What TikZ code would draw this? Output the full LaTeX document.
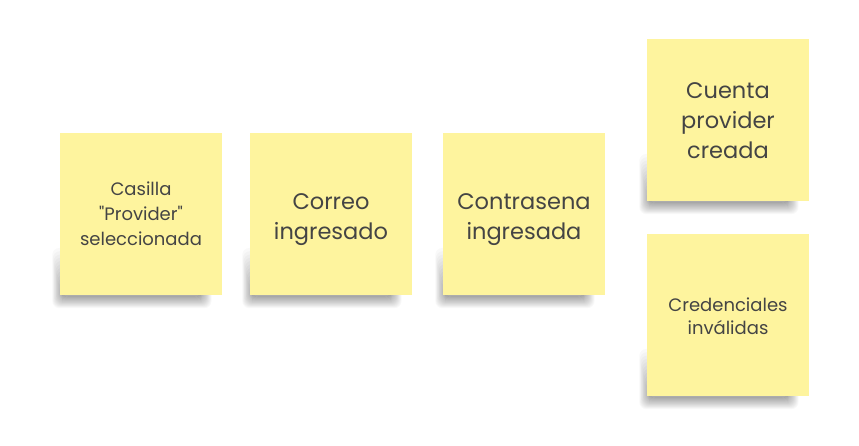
\documentclass[tikz,border=0pt]{standalone}
\usepackage{fontspec}
\setmainfont{Poppins}[Ligatures=TeXOff]
\definecolor{sticky}{HTML}{FEF49E}
\definecolor{ink}{HTML}{444444}
\tikzset{
  note/.style={fill=sticky, minimum width=162pt, minimum height=162pt, inner sep=0pt},
  label/.style={text=ink, align=center, inner sep=0pt},
  big/.style={font=\fontsize{22.5}{30}\selectfont},
  small/.style={font=\fontsize{18}{25}\selectfont},
  shadowlayer/.style={fill=black, fill opacity=0.022, draw=none, rounded corners=7pt}
}
\begin{document}
\begin{tikzpicture}[x=1pt,y=1pt]
\useasboundingbox[fill=white] (0,0) rectangle (859,446);
\coordinate (c1) at (141,232);
\coordinate (c2) at (331,232);
\coordinate (c3) at (524,232);
\coordinate (c4) at (728,326);
\coordinate (c5) at (728,131);
\foreach \c in {c1,c2,c3,c4,c5}{
  \foreach \i in {0,...,15}{
    \path[shadowlayer]
      ([xshift={-79pt-0.65*\i pt}, yshift={-83pt-0.75*\i pt}]\c)
      rectangle ([xshift={60pt+0.7*\i pt}, yshift={-82pt+3.2*\i pt}]\c);
  }
}
\node[note] (n1) at (c1) {};
\node[note] (n2) at (c2) {};
\node[note] (n3) at (c3) {};
\node[note] (n4) at (c4) {};
\node[note] (n5) at (c5) {};
\node[label, small] (t1) at ([yshift=0pt]n1.center) {Casilla\\"Provider"\\seleccionada};
\node[label, big] (t2) at ([yshift=-6pt]n2.center) {Correo\\ingresado};
\node[label, big] (t3) at ([yshift=-6pt]n3.center) {Contrasena\\ingresada};
\node[label, big] (t4) at ([yshift=-1pt]n4.center) {Cuenta\\provider\\creada};
\node[label, font=\fontsize{18}{23.5}\selectfont] (t5) at ([yshift=-1pt]n5.center) {Credenciales\\inválidas};
\end{tikzpicture}
\end{document}
